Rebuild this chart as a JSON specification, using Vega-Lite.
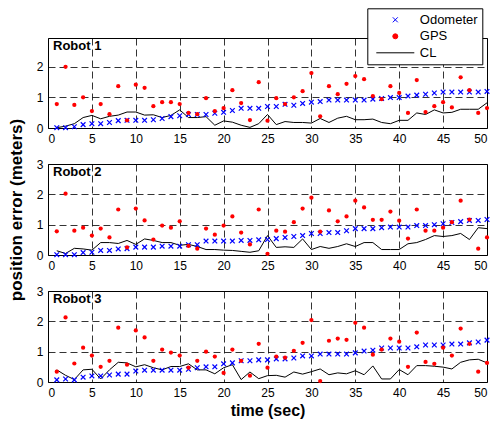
{
  "$schema": "https://vega.github.io/schema/vega-lite/v6.json",
  "padding": {"left": 6, "top": 7, "right": 3, "bottom": 4},
  "spacing": 36,
  "bounds": "flush",
  "data": {"values": [
    {"robot":1,"t":1,"Odometer":0.01,"GPS":0.78,"CL":0.01},
    {"robot":1,"t":2,"Odometer":0.01,"GPS":1.99,"CL":0.06},
    {"robot":1,"t":3,"Odometer":0.04,"GPS":0.75,"CL":0.14},
    {"robot":1,"t":4,"Odometer":0.11,"GPS":1.0,"CL":0.34},
    {"robot":1,"t":5,"Odometer":0.14,"GPS":0.55,"CL":0.41},
    {"robot":1,"t":6,"Odometer":0.14,"GPS":0.78,"CL":0.30},
    {"robot":1,"t":7,"Odometer":0.18,"GPS":0.45,"CL":0.38},
    {"robot":1,"t":8,"Odometer":0.24,"GPS":1.36,"CL":0.42},
    {"robot":1,"t":9,"Odometer":0.25,"GPS":0.25,"CL":0.52},
    {"robot":1,"t":10,"Odometer":0.25,"GPS":1.41,"CL":0.52},
    {"robot":1,"t":11,"Odometer":0.25,"GPS":1.31,"CL":0.42},
    {"robot":1,"t":12,"Odometer":0.27,"GPS":0.71,"CL":0.43},
    {"robot":1,"t":13,"Odometer":0.31,"GPS":0.84,"CL":0.34},
    {"robot":1,"t":14,"Odometer":0.37,"GPS":0.84,"CL":0.41},
    {"robot":1,"t":15,"Odometer":0.40,"GPS":0.78,"CL":0.59},
    {"robot":1,"t":16,"Odometer":0.44,"GPS":0.49,"CL":0.34},
    {"robot":1,"t":17,"Odometer":0.44,"GPS":0.45,"CL":0.34},
    {"robot":1,"t":18,"Odometer":0.44,"GPS":0.97,"CL":0.37},
    {"robot":1,"t":19,"Odometer":0.48,"GPS":0.55,"CL":0.09},
    {"robot":1,"t":20,"Odometer":0.51,"GPS":0.65,"CL":0.23},
    {"robot":1,"t":21,"Odometer":0.57,"GPS":1.23,"CL":0.19},
    {"robot":1,"t":22,"Odometer":0.64,"GPS":0.81,"CL":0.09},
    {"robot":1,"t":23,"Odometer":0.64,"GPS":0.26,"CL":0.02},
    {"robot":1,"t":24,"Odometer":0.64,"GPS":1.49,"CL":0.14},
    {"robot":1,"t":25,"Odometer":0.70,"GPS":0.24,"CL":0.44},
    {"robot":1,"t":26,"Odometer":0.70,"GPS":0.97,"CL":0.11},
    {"robot":1,"t":27,"Odometer":0.77,"GPS":0.78,"CL":0.21},
    {"robot":1,"t":28,"Odometer":0.74,"GPS":1.0,"CL":0.18},
    {"robot":1,"t":29,"Odometer":0.80,"GPS":1.2,"CL":0.18},
    {"robot":1,"t":30,"Odometer":0.84,"GPS":1.79,"CL":0.16},
    {"robot":1,"t":31,"Odometer":0.86,"GPS":0.38,"CL":0.31},
    {"robot":1,"t":32,"Odometer":0.91,"GPS":1.36,"CL":0.18},
    {"robot":1,"t":33,"Odometer":0.91,"GPS":1.1,"CL":0.32},
    {"robot":1,"t":34,"Odometer":0.91,"GPS":1.44,"CL":0.38},
    {"robot":1,"t":35,"Odometer":0.91,"GPS":1.69,"CL":0.27},
    {"robot":1,"t":36,"Odometer":0.91,"GPS":1.59,"CL":0.27},
    {"robot":1,"t":37,"Odometer":0.94,"GPS":1.04,"CL":0.29},
    {"robot":1,"t":38,"Odometer":0.96,"GPS":0.94,"CL":0.18},
    {"robot":1,"t":39,"Odometer":0.99,"GPS":1.36,"CL":0.14},
    {"robot":1,"t":40,"Odometer":0.99,"GPS":1.14,"CL":0.25},
    {"robot":1,"t":41,"Odometer":1.04,"GPS":0.49,"CL":0.25},
    {"robot":1,"t":42,"Odometer":1.07,"GPS":1.56,"CL":0.49},
    {"robot":1,"t":43,"Odometer":1.10,"GPS":0.52,"CL":0.44},
    {"robot":1,"t":44,"Odometer":1.14,"GPS":0.71,"CL":0.59},
    {"robot":1,"t":45,"Odometer":1.17,"GPS":0.84,"CL":0.49},
    {"robot":1,"t":46,"Odometer":1.17,"GPS":0.67,"CL":0.51},
    {"robot":1,"t":47,"Odometer":1.17,"GPS":1.65,"CL":0.61},
    {"robot":1,"t":48,"Odometer":1.17,"GPS":1.23,"CL":0.61},
    {"robot":1,"t":49,"Odometer":1.17,"GPS":0.49,"CL":0.61},
    {"robot":1,"t":50,"Odometer":1.19,"GPS":0.65,"CL":0.82},
    {"robot":2,"t":1,"Odometer":0.01,"GPS":0.78,"CL":0.14},
    {"robot":2,"t":2,"Odometer":0.01,"GPS":2.02,"CL":0.05},
    {"robot":2,"t":3,"Odometer":0.01,"GPS":0.80,"CL":0.22},
    {"robot":2,"t":4,"Odometer":0.08,"GPS":0.90,"CL":0.20},
    {"robot":2,"t":5,"Odometer":0.09,"GPS":0.64,"CL":0.16},
    {"robot":2,"t":6,"Odometer":0.15,"GPS":0.87,"CL":0.41},
    {"robot":2,"t":7,"Odometer":0.15,"GPS":0.58,"CL":0.41},
    {"robot":2,"t":8,"Odometer":0.20,"GPS":1.50,"CL":0.38},
    {"robot":2,"t":9,"Odometer":0.21,"GPS":0.25,"CL":0.48},
    {"robot":2,"t":10,"Odometer":0.26,"GPS":1.53,"CL":0.35},
    {"robot":2,"t":11,"Odometer":0.26,"GPS":1.14,"CL":0.53},
    {"robot":2,"t":12,"Odometer":0.26,"GPS":0.51,"CL":0.48},
    {"robot":2,"t":13,"Odometer":0.29,"GPS":0.97,"CL":0.41},
    {"robot":2,"t":14,"Odometer":0.29,"GPS":0.90,"CL":0.41},
    {"robot":2,"t":15,"Odometer":0.29,"GPS":1.11,"CL":0.32},
    {"robot":2,"t":16,"Odometer":0.34,"GPS":0.30,"CL":0.35},
    {"robot":2,"t":17,"Odometer":0.34,"GPS":0.21,"CL":0.28},
    {"robot":2,"t":18,"Odometer":0.46,"GPS":0.87,"CL":0.18},
    {"robot":2,"t":19,"Odometer":0.46,"GPS":0.67,"CL":0.18},
    {"robot":2,"t":20,"Odometer":0.46,"GPS":0.97,"CL":0.16},
    {"robot":2,"t":21,"Odometer":0.46,"GPS":1.27,"CL":0.15},
    {"robot":2,"t":22,"Odometer":0.48,"GPS":0.74,"CL":0.12},
    {"robot":2,"t":23,"Odometer":0.48,"GPS":0.35,"CL":0.09},
    {"robot":2,"t":24,"Odometer":0.50,"GPS":1.50,"CL":0.14},
    {"robot":2,"t":25,"Odometer":0.51,"GPS":0.04,"CL":0.64},
    {"robot":2,"t":26,"Odometer":0.54,"GPS":0.80,"CL":0.25},
    {"robot":2,"t":27,"Odometer":0.58,"GPS":0.77,"CL":0.27},
    {"robot":2,"t":28,"Odometer":0.61,"GPS":1.08,"CL":0.25},
    {"robot":2,"t":29,"Odometer":0.64,"GPS":1.53,"CL":0.53},
    {"robot":2,"t":30,"Odometer":0.71,"GPS":1.89,"CL":0.18},
    {"robot":2,"t":31,"Odometer":0.71,"GPS":0.77,"CL":0.28},
    {"robot":2,"t":32,"Odometer":0.74,"GPS":1.47,"CL":0.22},
    {"robot":2,"t":33,"Odometer":0.74,"GPS":1.11,"CL":0.28},
    {"robot":2,"t":34,"Odometer":0.80,"GPS":1.27,"CL":0.37},
    {"robot":2,"t":35,"Odometer":0.87,"GPS":1.79,"CL":0.28},
    {"robot":2,"t":36,"Odometer":0.87,"GPS":1.57,"CL":0.41},
    {"robot":2,"t":37,"Odometer":0.87,"GPS":1.16,"CL":0.41},
    {"robot":2,"t":38,"Odometer":0.90,"GPS":1.16,"CL":0.18},
    {"robot":2,"t":39,"Odometer":0.92,"GPS":1.43,"CL":0.18},
    {"robot":2,"t":40,"Odometer":0.92,"GPS":1.13,"CL":0.18},
    {"robot":2,"t":41,"Odometer":0.92,"GPS":0.54,"CL":0.37},
    {"robot":2,"t":42,"Odometer":0.97,"GPS":1.50,"CL":0.41},
    {"robot":2,"t":43,"Odometer":0.97,"GPS":0.80,"CL":0.51},
    {"robot":2,"t":44,"Odometer":1.00,"GPS":0.80,"CL":0.64},
    {"robot":2,"t":45,"Odometer":1.03,"GPS":0.90,"CL":0.61},
    {"robot":2,"t":46,"Odometer":1.07,"GPS":1.08,"CL":0.64},
    {"robot":2,"t":47,"Odometer":1.10,"GPS":1.79,"CL":0.71},
    {"robot":2,"t":48,"Odometer":1.14,"GPS":1.17,"CL":0.51},
    {"robot":2,"t":49,"Odometer":1.14,"GPS":0.21,"CL":0.90},
    {"robot":2,"t":50,"Odometer":1.17,"GPS":0.58,"CL":0.87},
    {"robot":3,"t":1,"Odometer":0.07,"GPS":0.34,"CL":0.40},
    {"robot":3,"t":2,"Odometer":0.10,"GPS":2.13,"CL":0.22},
    {"robot":3,"t":3,"Odometer":0.07,"GPS":0.61,"CL":0.08},
    {"robot":3,"t":4,"Odometer":0.16,"GPS":1.13,"CL":0.40},
    {"robot":3,"t":5,"Odometer":0.20,"GPS":0.87,"CL":0.42},
    {"robot":3,"t":6,"Odometer":0.20,"GPS":0.50,"CL":0.10},
    {"robot":3,"t":7,"Odometer":0.23,"GPS":0.70,"CL":0.40},
    {"robot":3,"t":8,"Odometer":0.26,"GPS":1.79,"CL":0.65},
    {"robot":3,"t":9,"Odometer":0.26,"GPS":0.57,"CL":0.63},
    {"robot":3,"t":10,"Odometer":0.36,"GPS":1.70,"CL":0.50},
    {"robot":3,"t":11,"Odometer":0.39,"GPS":1.47,"CL":0.57},
    {"robot":3,"t":12,"Odometer":0.39,"GPS":0.70,"CL":0.47},
    {"robot":3,"t":13,"Odometer":0.39,"GPS":1.07,"CL":0.40},
    {"robot":3,"t":14,"Odometer":0.39,"GPS":0.97,"CL":0.51},
    {"robot":3,"t":15,"Odometer":0.39,"GPS":0.87,"CL":0.51},
    {"robot":3,"t":16,"Odometer":0.42,"GPS":0.47,"CL":0.60},
    {"robot":3,"t":17,"Odometer":0.47,"GPS":0.70,"CL":0.40},
    {"robot":3,"t":18,"Odometer":0.50,"GPS":1.00,"CL":0.40},
    {"robot":3,"t":19,"Odometer":0.50,"GPS":0.84,"CL":0.27},
    {"robot":3,"t":20,"Odometer":0.60,"GPS":0.30,"CL":0.47},
    {"robot":3,"t":21,"Odometer":0.63,"GPS":1.07,"CL":0.57},
    {"robot":3,"t":22,"Odometer":0.70,"GPS":0.70,"CL":0.08},
    {"robot":3,"t":23,"Odometer":0.70,"GPS":0.21,"CL":0.33},
    {"robot":3,"t":24,"Odometer":0.73,"GPS":1.26,"CL":0.11},
    {"robot":3,"t":25,"Odometer":0.73,"GPS":0.47,"CL":0.21},
    {"robot":3,"t":26,"Odometer":0.76,"GPS":0.84,"CL":0.22},
    {"robot":3,"t":27,"Odometer":0.76,"GPS":0.80,"CL":0.16},
    {"robot":3,"t":28,"Odometer":0.79,"GPS":1.03,"CL":0.33},
    {"robot":3,"t":29,"Odometer":0.86,"GPS":1.29,"CL":0.26},
    {"robot":3,"t":30,"Odometer":0.86,"GPS":2.04,"CL":0.34},
    {"robot":3,"t":31,"Odometer":0.92,"GPS":0.03,"CL":0.43},
    {"robot":3,"t":32,"Odometer":0.92,"GPS":1.36,"CL":0.24},
    {"robot":3,"t":33,"Odometer":0.92,"GPS":1.43,"CL":0.30},
    {"robot":3,"t":34,"Odometer":0.92,"GPS":1.39,"CL":0.27},
    {"robot":3,"t":35,"Odometer":0.96,"GPS":1.95,"CL":0.37},
    {"robot":3,"t":36,"Odometer":1.02,"GPS":1.79,"CL":0.24},
    {"robot":3,"t":37,"Odometer":1.05,"GPS":0.90,"CL":0.53},
    {"robot":3,"t":38,"Odometer":1.12,"GPS":1.07,"CL":0.10},
    {"robot":3,"t":39,"Odometer":1.12,"GPS":1.43,"CL":0.10},
    {"robot":3,"t":40,"Odometer":1.12,"GPS":1.33,"CL":0.41},
    {"robot":3,"t":41,"Odometer":1.12,"GPS":0.50,"CL":0.24},
    {"robot":3,"t":42,"Odometer":1.16,"GPS":1.63,"CL":0.54},
    {"robot":3,"t":43,"Odometer":1.22,"GPS":0.66,"CL":0.54},
    {"robot":3,"t":44,"Odometer":1.22,"GPS":0.60,"CL":0.52},
    {"robot":3,"t":45,"Odometer":1.22,"GPS":1.13,"CL":0.49},
    {"robot":3,"t":46,"Odometer":1.25,"GPS":0.87,"CL":0.43},
    {"robot":3,"t":47,"Odometer":1.25,"GPS":1.76,"CL":0.65},
    {"robot":3,"t":48,"Odometer":1.29,"GPS":1.26,"CL":0.73},
    {"robot":3,"t":49,"Odometer":1.32,"GPS":0.34,"CL":0.75},
    {"robot":3,"t":50,"Odometer":1.38,"GPS":0.63,"CL":0.63}
  ]},
  "vconcat": [
    {
      "width": 439,
      "height": 90,
      "layer": [
        {
          "transform": [{"filter": "datum.robot === 1"}, {"fold": ["CL"], "as": ["series", "err"]}],
          "mark": {"type": "line", "strokeWidth": 1},
          "encoding": {
            "x": {"field": "t", "type": "quantitative", "scale": {"domain": [0, 50], "nice": false}, "axis": {"values": [0, 5, 10, 15, 20, 25, 30, 35, 40, 45, 50], "title": null}},
            "y": {"field": "err", "type": "quantitative", "scale": {"domain": [0, 2.93], "nice": false}, "axis": {"values": [0, 1, 2], "title": null}},
            "color": {
              "field": "series", "type": "nominal",
              "scale": {"domain": ["Odometer", "GPS", "CL"], "range": ["#0000ff", "#ff0000", "#000000"]},
              "legend": {
                "orient": "none", "legendX": 319.3, "legendY": -29.7, "title": null, "columns": 1,
                "clipHeight": 15, "rowPadding": 1.5, "padding": 4, "symbolSize": 25,
                "symbolOffset": 17.5, "labelOffset": 18,
                "strokeColor": "black", "fillColor": "white", "cornerRadius": 0,
                "labelFont": "Liberation Sans", "labelFontSize": 13, "labelColor": "black",
                "encode": {"symbols": {"update": {
                  "shape": {"signal": "datum.value === 'CL' ? 'M-9.6,0M-7.6,0L7.6,0' : datum.value === 'GPS' ? 'circle' : 'M-1,-1L1,1M-1,1L1,-1'"},
                  "fill": {"signal": "datum.value === 'GPS' ? '#ff0000' : 'transparent'"},
                  "stroke": {"signal": "datum.value === 'GPS' ? 'transparent' : datum.value === 'CL' ? '#000000' : '#0000ff'"},
                  "strokeWidth": {"value": 1},
                  "opacity": {"value": 1}
                }}}
              }
            }
          }
        },
        {
          "transform": [{"filter": "datum.robot === 1"}, {"fold": ["Odometer"], "as": ["series", "err"]}],
          "mark": {"type": "point", "shape": "M-1,-1L1,1M-1,1L1,-1", "filled": false, "size": 22, "strokeWidth": 1.2, "opacity": 1},
          "encoding": {
            "x": {"field": "t", "type": "quantitative", "scale": {"domain": [0, 50], "nice": false}, "axis": {"values": [0, 5, 10, 15, 20, 25, 30, 35, 40, 45, 50], "title": null}},
            "y": {"field": "err", "type": "quantitative", "scale": {"domain": [0, 2.93], "nice": false}, "axis": {"values": [0, 1, 2], "title": null}},
            "color": {"field": "series", "type": "nominal"}
          }
        },
        {
          "transform": [{"filter": "datum.robot === 1"}, {"fold": ["GPS"], "as": ["series", "err"]}],
          "mark": {"type": "point", "shape": "circle", "filled": true, "size": 18, "opacity": 1},
          "encoding": {
            "x": {"field": "t", "type": "quantitative", "scale": {"domain": [0, 50], "nice": false}, "axis": {"values": [0, 5, 10, 15, 20, 25, 30, 35, 40, 45, 50], "title": null}},
            "y": {"field": "err", "type": "quantitative", "scale": {"domain": [0, 2.93], "nice": false}, "axis": {"values": [0, 1, 2], "title": null}},
            "color": {"field": "series", "type": "nominal"}
          }
        },
        {
          "transform": [{"filter": "datum.robot === 1 && datum.t === 1"}],
          "mark": {"type": "text", "text": "Robot 1", "align": "left", "baseline": "alphabetic", "fontSize": 13, "fontWeight": "bold", "font": "Liberation Sans", "color": "black"},
          "encoding": {
            "x": {"datum": 0.57, "type": "quantitative", "scale": {"domain": [0, 50], "nice": false}, "axis": {"values": [0, 5, 10, 15, 20, 25, 30, 35, 40, 45, 50], "title": null}},
            "y": {"datum": 2.53, "type": "quantitative", "scale": {"domain": [0, 2.93], "nice": false}, "axis": {"values": [0, 1, 2], "title": null}}
          }
        }
      ]
    },
    {
      "width": 439,
      "height": 91,
      "layer": [
        {
          "transform": [{"filter": "datum.robot === 2"}, {"fold": ["CL"], "as": ["series", "err"]}],
          "mark": {"type": "line", "strokeWidth": 1},
          "encoding": {
            "x": {"field": "t", "type": "quantitative", "scale": {"domain": [0, 50], "nice": false}, "axis": {"values": [0, 5, 10, 15, 20, 25, 30, 35, 40, 45, 50], "title": null}},
            "y": {"field": "err", "type": "quantitative", "scale": {"domain": [0, 3], "nice": false}, "axis": {"values": [0, 1, 2, 3], "title": "position error (meters)", "titlePadding": 11, "titleFontSize": 17}},
            "color": {"field": "series", "type": "nominal", "scale": {"domain": ["Odometer", "GPS", "CL"], "range": ["#0000ff", "#ff0000", "#000000"]}, "legend": null}
          }
        },
        {
          "transform": [{"filter": "datum.robot === 2"}, {"fold": ["Odometer"], "as": ["series", "err"]}],
          "mark": {"type": "point", "shape": "M-1,-1L1,1M-1,1L1,-1", "filled": false, "size": 22, "strokeWidth": 1.2, "opacity": 1},
          "encoding": {
            "x": {"field": "t", "type": "quantitative", "scale": {"domain": [0, 50], "nice": false}, "axis": {"values": [0, 5, 10, 15, 20, 25, 30, 35, 40, 45, 50], "title": null}},
            "y": {"field": "err", "type": "quantitative", "scale": {"domain": [0, 3], "nice": false}, "axis": {"values": [0, 1, 2, 3], "title": "position error (meters)", "titlePadding": 11, "titleFontSize": 17}},
            "color": {"field": "series", "type": "nominal", "legend": null}
          }
        },
        {
          "transform": [{"filter": "datum.robot === 2"}, {"fold": ["GPS"], "as": ["series", "err"]}],
          "mark": {"type": "point", "shape": "circle", "filled": true, "size": 18, "opacity": 1},
          "encoding": {
            "x": {"field": "t", "type": "quantitative", "scale": {"domain": [0, 50], "nice": false}, "axis": {"values": [0, 5, 10, 15, 20, 25, 30, 35, 40, 45, 50], "title": null}},
            "y": {"field": "err", "type": "quantitative", "scale": {"domain": [0, 3], "nice": false}, "axis": {"values": [0, 1, 2, 3], "title": "position error (meters)", "titlePadding": 11, "titleFontSize": 17}},
            "color": {"field": "series", "type": "nominal", "legend": null}
          }
        },
        {
          "transform": [{"filter": "datum.robot === 2 && datum.t === 1"}],
          "mark": {"type": "text", "text": "Robot 2", "align": "left", "baseline": "alphabetic", "fontSize": 13, "fontWeight": "bold", "font": "Liberation Sans", "color": "black"},
          "encoding": {
            "x": {"datum": 0.57, "type": "quantitative", "scale": {"domain": [0, 50], "nice": false}, "axis": {"values": [0, 5, 10, 15, 20, 25, 30, 35, 40, 45, 50], "title": null}},
            "y": {"datum": 2.6, "type": "quantitative", "scale": {"domain": [0, 3], "nice": false}, "axis": {"values": [0, 1, 2, 3], "title": "position error (meters)", "titlePadding": 11, "titleFontSize": 17}}
          }
        }
      ]
    },
    {
      "width": 439,
      "height": 91,
      "layer": [
        {
          "transform": [{"filter": "datum.robot === 3"}, {"fold": ["CL"], "as": ["series", "err"]}],
          "mark": {"type": "line", "strokeWidth": 1},
          "encoding": {
            "x": {"field": "t", "type": "quantitative", "scale": {"domain": [0, 50], "nice": false}, "axis": {"values": [0, 5, 10, 15, 20, 25, 30, 35, 40, 45, 50], "title": "time (sec)", "titlePadding": 4, "titleFontSize": 16}},
            "y": {"field": "err", "type": "quantitative", "scale": {"domain": [0, 3], "nice": false}, "axis": {"values": [0, 1, 2, 3], "title": null}},
            "color": {"field": "series", "type": "nominal", "scale": {"domain": ["Odometer", "GPS", "CL"], "range": ["#0000ff", "#ff0000", "#000000"]}, "legend": null}
          }
        },
        {
          "transform": [{"filter": "datum.robot === 3"}, {"fold": ["Odometer"], "as": ["series", "err"]}],
          "mark": {"type": "point", "shape": "M-1,-1L1,1M-1,1L1,-1", "filled": false, "size": 22, "strokeWidth": 1.2, "opacity": 1},
          "encoding": {
            "x": {"field": "t", "type": "quantitative", "scale": {"domain": [0, 50], "nice": false}, "axis": {"values": [0, 5, 10, 15, 20, 25, 30, 35, 40, 45, 50], "title": "time (sec)", "titlePadding": 4, "titleFontSize": 16}},
            "y": {"field": "err", "type": "quantitative", "scale": {"domain": [0, 3], "nice": false}, "axis": {"values": [0, 1, 2, 3], "title": null}},
            "color": {"field": "series", "type": "nominal", "legend": null}
          }
        },
        {
          "transform": [{"filter": "datum.robot === 3"}, {"fold": ["GPS"], "as": ["series", "err"]}],
          "mark": {"type": "point", "shape": "circle", "filled": true, "size": 18, "opacity": 1},
          "encoding": {
            "x": {"field": "t", "type": "quantitative", "scale": {"domain": [0, 50], "nice": false}, "axis": {"values": [0, 5, 10, 15, 20, 25, 30, 35, 40, 45, 50], "title": "time (sec)", "titlePadding": 4, "titleFontSize": 16}},
            "y": {"field": "err", "type": "quantitative", "scale": {"domain": [0, 3], "nice": false}, "axis": {"values": [0, 1, 2, 3], "title": null}},
            "color": {"field": "series", "type": "nominal", "legend": null}
          }
        },
        {
          "transform": [{"filter": "datum.robot === 3 && datum.t === 1"}],
          "mark": {"type": "text", "text": "Robot 3", "align": "left", "baseline": "alphabetic", "fontSize": 13, "fontWeight": "bold", "font": "Liberation Sans", "color": "black"},
          "encoding": {
            "x": {"datum": 0.57, "type": "quantitative", "scale": {"domain": [0, 50], "nice": false}, "axis": {"values": [0, 5, 10, 15, 20, 25, 30, 35, 40, 45, 50], "title": "time (sec)", "titlePadding": 4, "titleFontSize": 16}},
            "y": {"datum": 2.6, "type": "quantitative", "scale": {"domain": [0, 3], "nice": false}, "axis": {"values": [0, 1, 2, 3], "title": null}}
          }
        }
      ]
    }
  ],
  "resolve": {"legend": {"color": "independent"}},
  "config": {
    "font": "Liberation Sans",
    "view": {"stroke": "black", "strokeWidth": 1},
    "axis": {
      "grid": true, "gridColor": "#000000", "gridDash": [7, 4], "gridWidth": 0.8, "gridOpacity": 1,
      "domain": false, "ticks": false,
      "labelFont": "Liberation Sans", "labelFontSize": 12, "labelColor": "black", "labelPadding": 5,
      "titleFont": "Liberation Sans", "titleFontSize": 14, "titleFontWeight": "bold", "titleColor": "black"
    }
  }
}
